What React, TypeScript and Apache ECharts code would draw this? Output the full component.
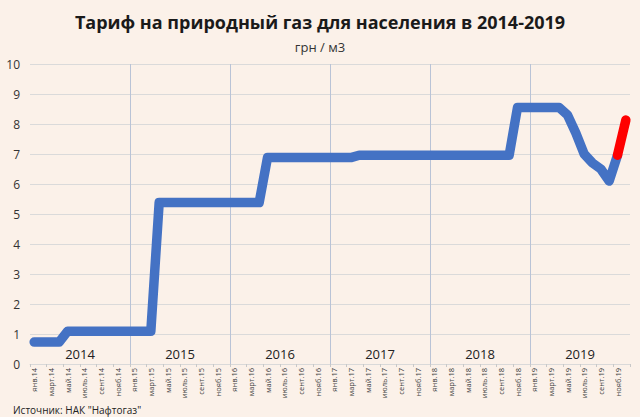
import React, { useEffect, useRef } from "react";
import * as echarts from "echarts";

const monthNames = ["янв.", "февр.", "март.", "апр.", "май.", "июнь.", "июль.", "авг.", "сент.", "окт.", "нояб.", "дек."];
const years = ["2014", "2015", "2016", "2017", "2018", "2019"];
const categories = years.flatMap((y) => monthNames.map((m) => m + y.slice(2)));

const tariff2014 = [0.73, 0.73, 0.73, 0.73, 1.09, 1.09, 1.09, 1.09, 1.09, 1.09, 1.09, 1.09];
const tariff2015 = [1.09, 1.09, 1.09, 5.38, 5.38, 5.38, 5.38, 5.38, 5.38, 5.38, 5.38, 5.38];
const tariff2016 = [5.38, 5.38, 5.38, 5.38, 6.88, 6.88, 6.88, 6.88, 6.88, 6.88, 6.88, 6.88];
const tariff2017 = [6.88, 6.88, 6.88, 6.96, 6.96, 6.96, 6.96, 6.96, 6.96, 6.96, 6.96, 6.96];
const tariff2018 = [6.96, 6.96, 6.96, 6.96, 6.96, 6.96, 6.96, 6.96, 6.96, 6.96, 8.55, 8.55];
const tariff2019 = [8.55, 8.55, 8.55, 8.55, 8.3, 7.7, 7.0, 6.7, 6.5, 6.1, 6.96, null];
const forecast2019 = [null, null, null, null, null, null, null, null, null, null, 6.96, 8.13];

const blueValues = [...tariff2014, ...tariff2015, ...tariff2016, ...tariff2017, ...tariff2018, ...tariff2019];
const redValues = [...new Array(60).fill(null), ...forecast2019];

const FONT = "'Open Sans', 'Noto Sans', sans-serif";

export default function App() {
  const ref = useRef<HTMLDivElement>(null);
  useEffect(() => {
    if (!ref.current) return;
    const chart = echarts.init(ref.current, null, { renderer: "svg" });
    chart.setOption({
      animation: false,
      backgroundColor: "#FBF1E9",
      textStyle: { fontFamily: FONT },
      title: [
        {
          text: "Тариф на природный газ для населения в 2014-2019",
          left: "center",
          top: 8,
          textStyle: { fontSize: 18, fontWeight: "bold", color: "#1a1a1a", fontFamily: FONT },
        },
        {
          text: "грн / м3",
          left: "center",
          top: 35,
          textStyle: { fontSize: 13, fontWeight: "normal", color: "#333", fontFamily: FONT },
        },
        {
          text: 'Источник: НАК "Нафтогаз"',
          left: 8,
          top: 400,
          textStyle: { fontSize: 10, fontWeight: "normal", color: "#222", fontFamily: FONT },
        },
      ],
      grid: { left: 30, right: 10, top: 64, bottom: 53, containLabel: false },
      xAxis: [
        {
          type: "category",
          data: categories,
          boundaryGap: true,
          position: "bottom",
          axisLine: { show: true, lineStyle: { color: "#D9D9D9" } },
          axisTick: { show: true, interval: 1, length: 3, lineStyle: { color: "#C8C8C8" } },
          axisLabel: { interval: 1, rotate: 90, fontSize: 7.5, margin: 4, color: "#404040", fontFamily: FONT },
          splitLine: { show: false },
        },
        {
          type: "category",
          data: years,
          boundaryGap: true,
          position: "bottom",
          axisLine: { show: false },
          axisTick: { show: false },
          axisLabel: { inside: true, margin: 4, fontSize: 13, color: "#222", fontFamily: FONT },
          splitLine: {
            show: true,
            showMinLine: false,
            showMaxLine: false,
            lineStyle: { color: "#B9C3D6", width: 1 },
          },
        },
      ],
      yAxis: {
        type: "value",
        min: 0,
        max: 10,
        interval: 1,
        axisLine: { show: false },
        axisTick: { show: false },
        axisLabel: { fontSize: 12, color: "#333", margin: 10, fontFamily: FONT },
        splitLine: { lineStyle: { color: "#DADADA" } },
      },
      series: [
        {
          type: "line",
          data: blueValues,
          xAxisIndex: 0,
          symbol: "none",
          connectNulls: false,
          lineStyle: { color: "#4472C4", width: 9.5, cap: "round", join: "round" },
        },
        {
          type: "line",
          data: redValues,
          xAxisIndex: 0,
          symbol: "none",
          connectNulls: false,
          lineStyle: { color: "#FF0000", width: 9.5, cap: "round", join: "round" },
        },
      ],
    });
    return () => chart.dispose();
  }, []);
  return (
    <div
      ref={ref}
      style={{ position: "fixed", left: 0, top: 0, width: 640, height: 417 }}
    />
  );
}
